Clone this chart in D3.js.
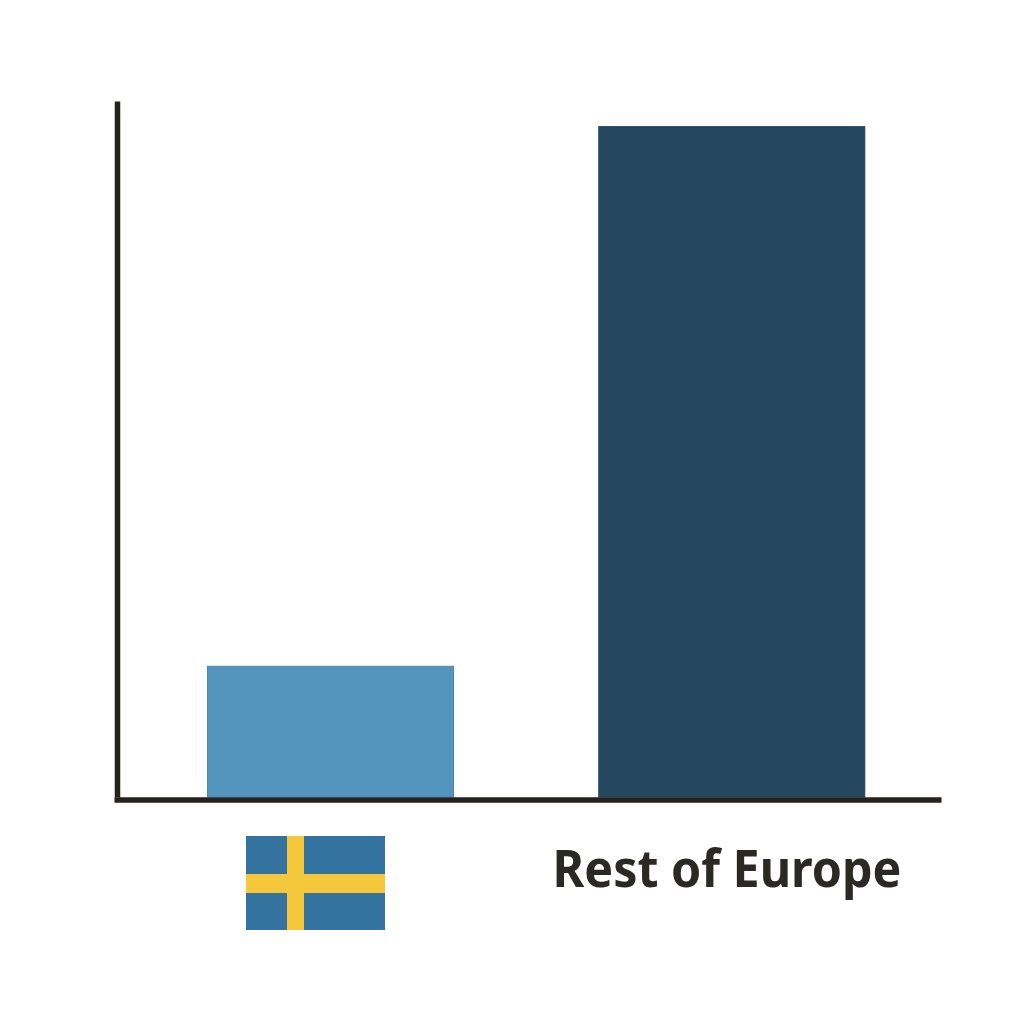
<!DOCTYPE html>
<html>
<head>
<meta charset="utf-8">
<script src="https://cdn.jsdelivr.net/npm/d3@7"></script>
<style>
  html, body { margin: 0; padding: 0; background: #fff; }
</style>
</head>
<body>
<div id="chart"></div>
<script>
// Values (the chart has no ticks, so shares in % are an estimate)
const categories = ["Sweden", "Rest of Europe"];
const values = [16.3, 83.6];
const barColors = ["#5495bd", "#24485f"];
const barEdges = ["#4a88b0", "#1e4058"];

const width = 1024;
const height = 1024;
const axisColor = "#24211e";

const svg = d3.select("#chart").append("svg")
    .attr("width", width)
    .attr("height", height)
    .style("display", "block");

const x = d3.scaleBand()
    .domain(categories)
    .range([114, 941])
    .paddingInner(0)
    .paddingOuter(0.0305)
    .align(0.649);

const y = d3.scaleLinear()
    .domain([0, 86.8])
    .range([797, 101]);

// The two bars are not the same width in the original
const barWidth = d3.scaleOrdinal().domain(categories).range([246, 266]);

svg.selectAll("rect.bar")
    .data(categories)
    .enter()
    .append("rect")
    .attr("class", "bar")
    .attr("x", d => x(d) + x.bandwidth() / 2 - barWidth(d) / 2)
    .attr("y", (d, i) => y(values[i]))
    .attr("width", d => barWidth(d))
    .attr("height", (d, i) => y(0) - y(values[i]))
    .attr("fill", (d, i) => barColors[i])
    .attr("stroke", (d, i) => barEdges[i])
    .attr("stroke-width", 1);

// Axes have no ticks, only the lines
const xAxis = svg.append("g")
    .attr("transform", "translate(0,799.5)")
    .call(d3.axisBottom(x).tickValues([]).tickSizeOuter(0));

const yAxis = svg.append("g")
    .attr("transform", "translate(117,0)")
    .call(d3.axisLeft(y).tickValues([]).tickSizeOuter(0));

svg.selectAll(".domain")
    .attr("stroke", axisColor)
    .attr("stroke-width", 5.5);

// First category label is a Swedish flag instead of text
const flag = svg.append("g")
    .attr("transform", "translate(246,836)")
    .attr("role", "img")
    .attr("aria-label", categories[0]);

flag.append("rect").attr("width", 139).attr("height", 94).attr("fill", "#34739f");
flag.append("rect").attr("x", 41).attr("width", 17).attr("height", 94).attr("fill", "#f5c83c");
flag.append("rect").attr("y", 38).attr("width", 139).attr("height", 19).attr("fill", "#f5c83c");

// The label is narrower than the font at this height, so it is squeezed to fit
svg.append("text")
    .attr("x", 727)
    .attr("y", 887)
    .attr("text-anchor", "middle")
    .attr("font-family", "'Noto Sans', sans-serif")
    .attr("font-weight", 700)
    .attr("font-size", 52)
    .attr("textLength", 349)
    .attr("lengthAdjust", "spacingAndGlyphs")
    .attr("fill", "#2a2926")
    .text(categories[1]);
</script>
</body>
</html>
